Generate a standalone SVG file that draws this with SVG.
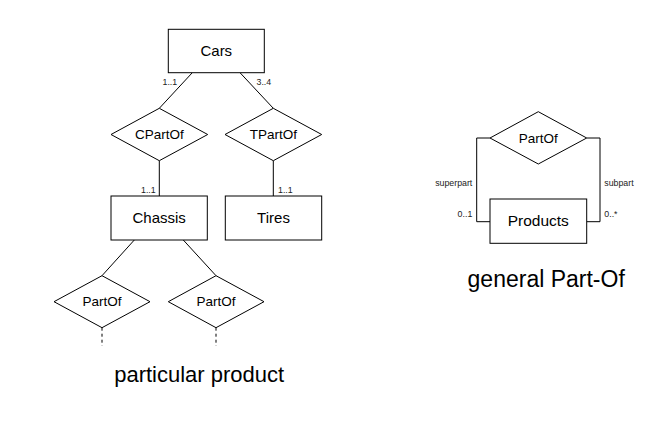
<svg xmlns="http://www.w3.org/2000/svg" width="660" height="424" viewBox="0 0 660 424">
<style>
.box{fill:#fff;stroke:#000;stroke-width:1}
.line{fill:none;stroke:#000;stroke-width:1}
.dash{fill:none;stroke:#000;stroke-width:1;stroke-dasharray:3,3}
text{font-family:"Liberation Sans",Arial,sans-serif;fill:#000}
.ent{font-size:15px;text-anchor:middle}
.rel{font-size:13.5px;text-anchor:middle}
.card{font-size:8.8px;fill:#222}
.title{font-size:22px;text-anchor:middle}
</style>
<rect width="660" height="424" fill="#fff"/>
<g id="connectors">
<line class="line" x1="192.3" y1="72.7" x2="159.3" y2="108.3"/>
<line class="line" x1="240" y1="72.7" x2="273.3" y2="108.3"/>
<line class="line" x1="159.3" y1="160.7" x2="159.3" y2="196"/>
<line class="line" x1="273.3" y1="160.7" x2="273.3" y2="196"/>
<line class="line" x1="134.3" y1="240" x2="102" y2="275.7"/>
<line class="line" x1="183.3" y1="240" x2="216" y2="275.7"/>
<line class="dash" x1="102" y1="327.7" x2="102" y2="346"/>
<line class="dash" x1="216" y1="327.7" x2="216" y2="346"/>
<polyline class="line" points="490,138 476.7,138 476.7,221.7 490,221.7"/>
<polyline class="line" points="586.7,138 600,138 600,221.7 586.7,221.7"/>
<text class="card" x="162.5" y="85">1..1</text>
<text class="card" x="256.5" y="85">3..4</text>
<text class="card" x="141" y="192.5">1..1</text>
<text class="card" x="278" y="192.5">1..1</text>
<text class="card" x="472.3" y="186" text-anchor="end">superpart</text>
<text class="card" x="472.3" y="217" text-anchor="end">0..1</text>
<text class="card" x="604.3" y="186">subpart</text>
<text class="card" x="604.3" y="217">0..*</text>
</g>
<g id="cars"><rect class="box" x="168.3" y="29.3" width="96" height="43.4"/><text class="ent" x="216.3" y="56">Cars</text></g>
<g id="cpartof"><polygon class="box" points="159.3,108.3 207.7,134.5 159.3,160.7 111,134.5"/><text class="rel" x="159.3" y="139.3">CPartOf</text></g>
<g id="tpartof"><polygon class="box" points="273.3,108.3 321.7,134.5 273.3,160.7 225,134.5"/><text class="rel" x="273.3" y="139.3">TPartOf</text></g>
<g id="chassis"><rect class="box" x="111" y="196" width="96.3" height="44"/><text class="ent" x="159.2" y="223.3">Chassis</text></g>
<g id="tires"><rect class="box" x="225.3" y="196" width="96.4" height="44"/><text class="ent" x="273.5" y="223.3">Tires</text></g>
<g id="partof1"><polygon class="box" points="102,275.7 150,301.7 102,327.7 54,301.7"/><text class="rel" x="102" y="306">PartOf</text></g>
<g id="partof2"><polygon class="box" points="216,275.7 264,301.7 216,327.7 168.3,301.7"/><text class="rel" x="216" y="306">PartOf</text></g>
<g id="partof-general"><polygon class="box" points="538.3,111.7 586.7,138 538.3,164 490,138"/><text class="rel" x="538.3" y="142.5">PartOf</text></g>
<g id="products"><rect class="box" x="490" y="199" width="96.7" height="44.3"/><text class="ent" x="538.3" y="226" style="font-size:15.5px">Products</text></g>
<text class="title" x="199.2" y="382">particular product</text>
<text class="title" x="546.2" y="287" style="font-size:23px">general Part-Of</text>
</svg>
